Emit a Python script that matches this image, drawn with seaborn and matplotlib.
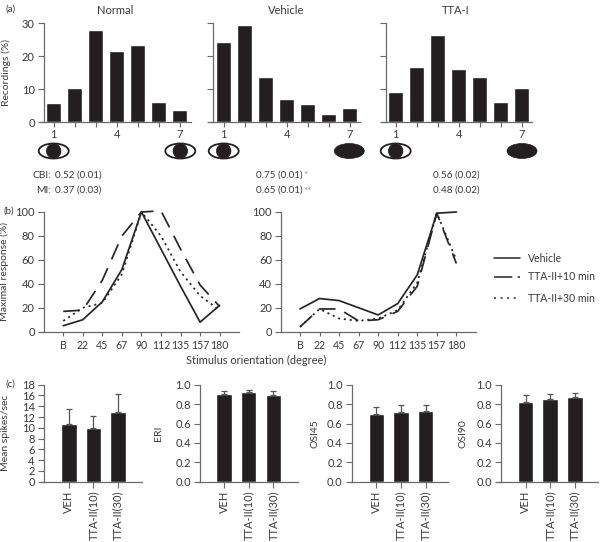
"""Ocular dominance histograms, orientation tuning and response bars."""

import matplotlib.pyplot as plt
import numpy as np
import pandas as pd
import seaborn as sns
from matplotlib.patches import Ellipse

W, H = 603, 542
DARK = "#231f20"
AXIS = "#6a6a6a"
TEXT = "#3a3a3a"

# (a) ocular dominance histograms
od_classes = ["1", "2", "3", "4", "5", "6", "7"]
od_labels = ["1", "", "", "4", "", "", "7"]
od_normal = [5.7, 10.4, 27.9, 21.5, 23.3, 6.2, 3.6]
od_vehicle = [24.4, 29.6, 13.7, 7.1, 5.6, 2.4, 4.3]
od_tta = [9.1, 16.8, 26.5, 16.1, 13.7, 6.2, 10.4]

# (b) orientation tuning
orientations = ["B", "22", "45", "67", "90", "112", "135", "157", "180"]
left_vehicle = [5, 10, 25, 52, 100, 69, 38, 8, 22]
left_tta10 = [17, 18, 43, 80, 100, 101, 69, 39, 21]
left_tta30 = [9, 20, 24, 48, 100, 80, 50, 30, 18]
right_vehicle = [19, 27.7, 26, 20, 14, 23.5, 47.5, 99, 100]
right_tta10 = [4, 19, 19, 9, 10, 17, 38, 99, 57]
right_tta30 = [4, 19, 11, 9, 11, 18, 41, 99, 60]

# (c) summary bars
groups = ["VEH", "TTA-II(10)", "TTA-II(30)"]
spikes_mean = [10.7, 10.0, 13.0]
spikes_err = [2.7, 2.2, 3.2]
eri_mean = [0.905, 0.92, 0.895]
eri_err = [0.025, 0.03, 0.035]
osi45_mean = [0.695, 0.72, 0.73]
osi45_err = [0.08, 0.07, 0.065]
osi90_mean = [0.825, 0.85, 0.875]
osi90_err = [0.065, 0.05, 0.04]

sns.set_theme(style="ticks")
plt.rcParams["font.family"] = ["Lato", "DejaVu Sans"]
plt.rcParams["font.size"] = 7.6
plt.rcParams["axes.labelsize"] = 7.5
plt.rcParams["text.color"] = TEXT
plt.rcParams["axes.labelcolor"] = TEXT
plt.rcParams["xtick.labelcolor"] = TEXT
plt.rcParams["ytick.labelcolor"] = TEXT

fig = plt.figure(figsize=(W / 100, H / 100), dpi=100)


def make_axes(left, right, top, bottom):
    """Add axes from a pixel box measured from the top left."""
    ax = fig.add_axes(
        [left / W, 1 - bottom / H, (right - left) / W, (bottom - top) / H]
    )
    ax.patch.set_alpha(0)
    sns.despine(ax=ax)
    for side in ["left", "bottom"]:
        ax.spines[side].set_color(AXIS)
        ax.spines[side].set_linewidth(0.9)
    ax.tick_params(
        axis="both", length=4, width=0.8, color=AXIS, labelsize=8, pad=2.5
    )
    return ax


def set_ylabel_at(ax, box, text, x):
    """Put the y label centre at pixel column x."""
    ax.set_ylabel(text)
    ax.yaxis.set_label_coords((x - box[0]) / (box[1] - box[0]), 0.5)


def od_panel(box, values, first, title, title_x, show_labels):
    ax = make_axes(*box)
    sns.barplot(
        x=od_classes, y=values, color=DARK, saturation=1, width=0.72, ax=ax
    )
    # the axis runs half a bar past the outer classes
    ax.set_xlim(first, first + (box[1] - box[0]) / 21)
    ax.set_ylim(0, 30)
    ax.set_yticks([0, 10, 20, 30])
    ax.set_xticks(range(7))
    ax.set_xticklabels(od_labels)
    ax.set_xlabel("")
    ax.tick_params(axis="x", direction="inout", length=7, pad=1.5)
    ax.spines["bottom"].set_bounds(first - 0.16, ax.get_xlim()[1])
    if show_labels:
        set_ylabel_at(ax, box, "Recordings (%)", 11)
    else:
        ax.set_yticklabels([])
        ax.set_ylabel("")
    fig.text(title_x / W, 1 - 10 / H, title, ha="center", va="center", fontsize=8)
    return ax


od_panel((43.7, 190.7, 23.3, 122.3), od_normal, -0.476, "Normal", 114.7, True)
od_panel((213.3, 360, 23.3, 122.3), od_vehicle, -0.49, "Vehicle", 286, False)
od_panel((385.7, 532.3, 23.3, 122.3), od_tta, -0.476, "TTA-I", 456, False)


def tuning_panel(box, vehicle, tta10, tta30, first):
    ax = make_axes(*box)
    frame = pd.DataFrame(
        {
            "orientation": np.arange(len(orientations)),
            "Vehicle": vehicle,
            "TTA-II+10 min": tta10,
            "TTA-II+30 min": tta30,
        }
    )
    styles = [
        ("TTA-II+30 min", (0, (1.2, 2.2))),
        ("TTA-II+10 min", (0, (9.5, 5.5))),
        ("Vehicle", "-"),
    ]
    for name, dash in styles:
        sns.lineplot(
            data=frame, x="orientation", y=name, color="#262626", lw=1.25,
            linestyle=dash, ax=ax, errorbar=None, clip_on=False,
        )
    ax.set_xlim(first, first + (box[1] - box[0]) / 19.55)
    ax.set_ylim(0, 100)
    ax.set_yticks(range(0, 101, 20))
    ax.set_xticks(range(len(orientations)))
    ax.set_xticklabels(orientations)
    ax.set_xlabel("")
    ax.set_ylabel("")
    ax.tick_params(axis="x", pad=3, length=3, labelsize=7.6)
    return ax


left_box = (43.7, 239.3, 212, 331.7)
left_ax = tuning_panel(left_box, left_vehicle, left_tta10, left_tta30, -1.0)
left_ax.spines["bottom"].set_bounds(-1.2, left_ax.get_xlim()[1])
set_ylabel_at(left_ax, left_box, "Maximal response (%)", 9.5)
tuning_panel((281, 476, 212, 331.7), right_vehicle, right_tta10, right_tta30, -0.97)


def summary_panel(box, means, errs, ymax, ticks, ylabel, label_x, first):
    ax = make_axes(*box)
    sns.barplot(x=groups, y=means, color=DARK, saturation=1, width=0.63, ax=ax)
    ax.errorbar(
        range(len(groups)), means, yerr=[np.zeros(len(errs)), errs], fmt="none",
        ecolor="#555555", elinewidth=0.9, capsize=2.2, capthick=0.9,
    )
    ax.set_xlim(first, first + (box[1] - box[0]) / 24.6)
    ax.set_ylim(0, ymax)
    ax.set_yticks(ticks)
    if ymax == 1:
        ax.set_yticklabels([f"{t:.1f}" for t in ticks])
    ax.set_xticks(range(len(groups)))
    ax.set_xticklabels(groups, rotation=90)
    ax.tick_params(axis="x", labelsize=8)
    ax.set_xlabel("")
    set_ylabel_at(ax, box, ylabel, label_x)
    ax.spines["bottom"].set_bounds(first - 0.12, ax.get_xlim()[1])
    return ax


unit_ticks = [0.0, 0.2, 0.4, 0.6, 0.8, 1.0]
summary_panel(
    (43.7, 141.7, 384.7, 481.7), spikes_mean, spikes_err, 18, list(range(0, 19, 2)),
    "Mean spikes/sec", 10.5, -1.02,
)
summary_panel(
    (200, 297.7, 384.7, 481.7), eri_mean, eri_err, 1, unit_ticks, "ERI", 162.7, -0.98
)
summary_panel(
    (351.7, 448.3, 384.7, 481.7), osi45_mean, osi45_err, 1, unit_ticks, "OSI45", 319, -1.0
)
summary_panel(
    (501, 597.7, 384.7, 481.7), osi90_mean, osi90_err, 1, unit_ticks, "OSI90", 468, -1.0
)

# overlay in pixel units for the eye glyphs, notes and legend
over = fig.add_axes([0, 0, 1, 1])
over.set_xlim(0, W)
over.set_ylim(H, 0)
over.axis("off")


def draw_eye(x, open_eye):
    y = 151
    if open_eye:
        over.add_patch(Ellipse((x, y), 30, 15, fc="white", ec=DARK, lw=1.3))
        over.add_patch(Ellipse((x, y), 14.5, 14.5, fc=DARK, ec=DARK, lw=0.5))
    else:
        over.add_patch(Ellipse((x, y), 30, 15, fc=DARK, ec=DARK, lw=0.5))


for eye_x, eye_open in [
    (53.7, True), (180.3, True), (223.7, True), (349.3, False), (395.7, True), (522, False),
]:
    draw_eye(eye_x, eye_open)

for x, y, label in [(6, 9, "(a)"), (3.5, 211, "(b)"), (5, 384, "(c)")]:
    over.text(x, y, label, va="center", ha="left", fontsize=7)

over.text(51, 175, "CBI:", va="center", ha="right", fontsize=7.4)
over.text(51, 190.5, "MI:", va="center", ha="right", fontsize=7.4)
for x, cbi, mi in [
    (55, "0.52 (0.01)", "0.37 (0.03)"),
    (256, "0.75 (0.01)", "0.65 (0.01)"),
    (433, "0.56 (0.02)", "0.48 (0.02)"),
]:
    over.text(x, 175, cbi, va="center", ha="left", fontsize=7.1)
    over.text(x, 190.5, mi, va="center", ha="left", fontsize=7.1)
over.text(303.5, 176, "*", va="center", ha="left", color="#8a8a8a", fontsize=7.1)
over.text(303.5, 191.5, "**", va="center", ha="left", color="#8a8a8a", fontsize=7.1)

over.text(186, 360, "Stimulus orientation (degree)", va="center", ha="left", fontsize=7.9)

for y, label, dash in [
    (258, "Vehicle", "-"),
    (277, "TTA-II+10 min", (0, (12, 3.5))),
    (298, "TTA-II+30 min", (0, (1.3, 3))),
]:
    over.plot([494, 520], [y, y], color="#262626", lw=1.1, linestyle=dash)
    over.text(528, y, label, va="center", ha="left")

fig.savefig("out.png", dpi=100)
plt.close(fig)
